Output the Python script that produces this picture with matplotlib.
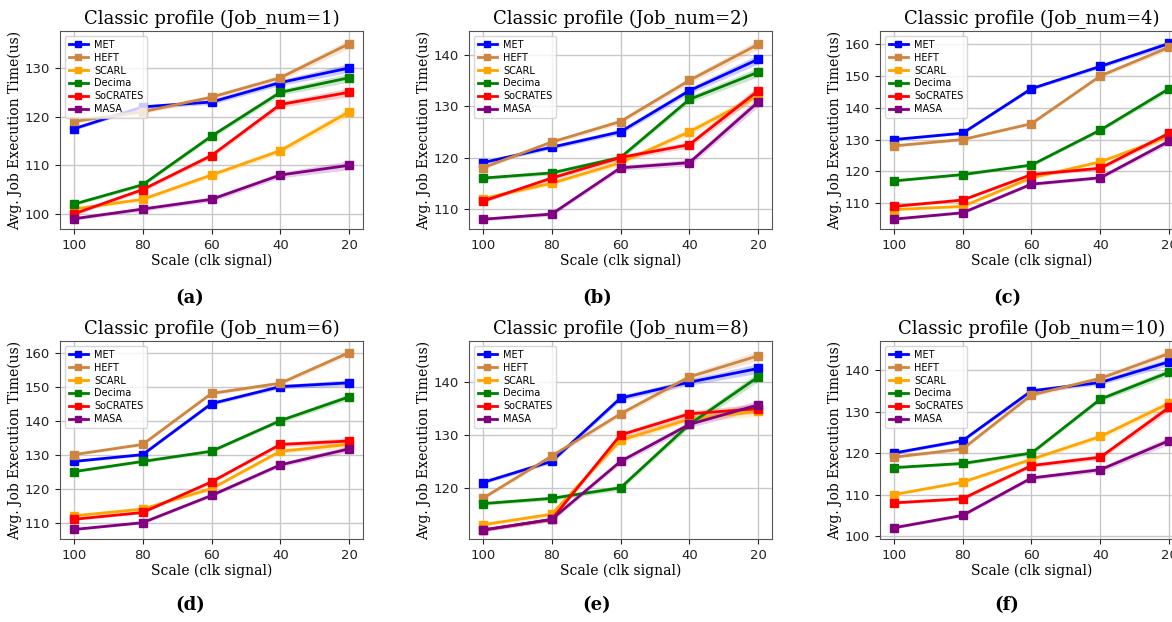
import matplotlib.pyplot as plt
import numpy as np

scales = [100, 80, 60, 40, 20]
methods = ['MET', 'HEFT', 'SCARL', 'Decima', 'SoCRATES', 'MASA']
colors = ['#0000ff', '#cd853f', '#ffa500', '#008000', '#ff0000', '#800080']
job_nums = [1, 2, 4, 6, 8, 10]
captions = ['a', 'b', 'c', 'd', 'e', 'f']

# avg job execution time per job_num, one row per method
job1 = [[117.5, 122, 123, 127, 130],
        [119, 121, 124, 128, 135],
        [101, 103, 108, 113, 121],
        [102, 106, 116, 125, 128],
        [100, 105, 112, 122.5, 125],
        [99, 101, 103, 108, 110]]
job2 = [[119, 122, 125, 133, 139.1],
        [118, 123, 127, 135, 142],
        [112, 115, 119, 125, 132],
        [116, 117, 120, 131.3, 136.6],
        [111.5, 116, 120, 122.5, 133],
        [108, 109, 118, 119, 130.8]]
job4 = [[130, 132, 146, 153, 160.2],
        [128, 130, 135, 150, 159],
        [108, 109, 118, 123, 131],
        [117, 119, 122, 133, 146],
        [109, 111, 119, 121, 132],
        [105, 107, 116, 118, 129.5]]
job6 = [[128, 130, 145, 150, 151.1],
        [130, 133, 148, 151, 160],
        [112, 114, 120, 131, 133],
        [125, 128, 131, 140, 147],
        [111, 113, 122, 133, 134],
        [108, 110, 118, 127, 131.7]]
job8 = [[121, 125, 137, 140, 142.6],
        [118, 126, 134, 141, 145],
        [113, 115, 129, 133, 134.5],
        [117, 118, 120, 132, 141],
        [112, 114, 130, 134, 135],
        [112, 114, 125, 132, 135.7]]
job10 = [[120, 123, 135, 137, 142],
         [119, 121, 134, 138, 144],
         [110, 113, 118.5, 124, 132],
         [116.5, 117.5, 120, 133, 139.5],
         [108, 109, 117, 119, 131],
         [102, 105, 114, 116, 123]]
all_data = [job1, job2, job4, job6, job8, job10]

# half width of the shaded spread at each scale
spread = [0.3, 0.4, 0.5, 0.6, 0.9]

# y ranges as shown in each panel
ylims = [(96.9, 137.6), (106.1, 144.6), (101.9, 164.1),
         (105.2, 163.4), (110.3, 147.8), (99.3, 147.0)]

W, H = 1172, 622
fig = plt.figure(figsize=(W / 100, H / 100), dpi=100)

lefts = [60, 469, 880]
tops = [31, 341]
aw, ah = 303, 198
cap_x = [190, 597, 1007]
cap_y = [298, 605]

for i, data in enumerate(all_data):
    r, c = divmod(i, 3)
    ax = fig.add_axes([lefts[c] / W, 1 - (tops[r] + ah) / H, aw / W, ah / H])
    for name, col, vals in zip(methods, colors, data):
        v = np.array(vals)
        ax.fill_between(scales, v - spread, v + spread, color=col, alpha=0.2, linewidth=0)
        ax.plot(scales, v, color=col, marker='s', markersize=5.5, linewidth=2, label=name)
    ax.set_xlim(104, 16)
    ax.set_ylim(*ylims[i])
    ax.set_xticks(scales)
    ax.grid(True, color='#c8c8c8', linewidth=1)
    ax.set_axisbelow(True)
    for s in ax.spines.values():
        s.set_color('#555555')
    ax.tick_params(labelsize=9.5, colors='#222222')
    ax.set_title('Classic profile (Job_num=%d)' % job_nums[i], family='DejaVu Serif', fontsize=13, pad=5)
    ax.set_xlabel('Scale (clk signal)', family='DejaVu Serif', fontsize=10, labelpad=1)
    ax.set_ylabel('Avg. Job Execution Time(us)', family='DejaVu Serif', fontsize=10, labelpad=2)
    ax.legend(loc='upper left', fontsize=7, markerscale=0.85, handlelength=2.0, handletextpad=0.6,
              labelspacing=0.3, borderpad=0.4, framealpha=0.8)
    fig.text(cap_x[c] / W, 1 - cap_y[r] / H, '(%s)' % captions[i], family='DejaVu Serif',
             fontweight='bold', fontsize=13, ha='center', va='center')

fig.savefig('out.png', dpi=100)
